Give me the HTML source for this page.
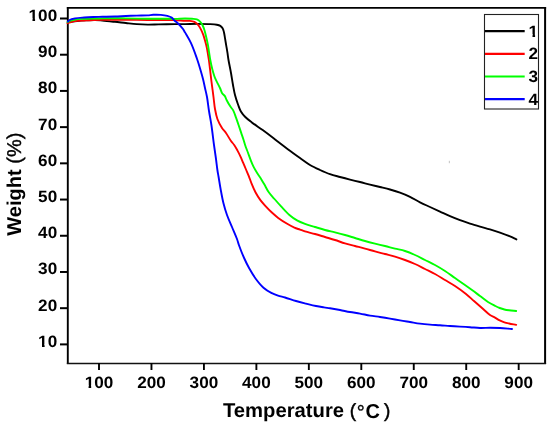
<!DOCTYPE html>
<html><head><meta charset="utf-8"><title>TGA curves</title><style>
html,body{margin:0;padding:0;background:#fff;}
body{width:550px;height:425px;overflow:hidden;}
svg{display:block;will-change:transform;}
text{font-family:"Liberation Sans",sans-serif;fill:#000;text-rendering:geometricPrecision;}
</style></head><body>
<svg width="550" height="425" viewBox="0 0 550 425">
<rect width="550" height="425" fill="#fff"/>
<defs><clipPath id="clip1"><path d="M-5,-30H20V-2.64H6.21V5H3.72V-2.64H-5Z"/></clipPath></defs>
<path d="M66.85,7.85H546.1" stroke="#000" stroke-width="1.9" fill="none"/>
<path d="M67.8,6.9V364.1" stroke="#000" stroke-width="1.9" fill="none"/>
<path d="M545.1,6.9V364.1" stroke="#000" stroke-width="2" fill="none"/>
<path d="M66.85,363.45H546.1" stroke="#111" stroke-width="1.5" fill="none"/>
<line x1="60" y1="344.39" x2="68" y2="344.39" stroke="#000" stroke-width="2"/>
<g transform="translate(38.12,346.79) scale(1.0460,1)"><g transform="translate(0.00,0)"><text x="0" y="0" font-size="16.40" font-weight="bold" clip-path="url(#clip1)">1</text></g><text x="9.12" y="0" font-size="16.40" font-weight="bold">0</text></g>
<line x1="60" y1="308.18" x2="68" y2="308.18" stroke="#000" stroke-width="2"/>
<text transform="translate(38.12,310.58) scale(1.0460,1)" text-anchor="start" font-size="16.40" font-weight="bold">20</text>
<line x1="60" y1="271.97" x2="68" y2="271.97" stroke="#000" stroke-width="2"/>
<text transform="translate(38.12,274.37) scale(1.0460,1)" text-anchor="start" font-size="16.40" font-weight="bold">30</text>
<line x1="60" y1="235.76" x2="68" y2="235.76" stroke="#000" stroke-width="2"/>
<text transform="translate(38.12,238.16) scale(1.0460,1)" text-anchor="start" font-size="16.40" font-weight="bold">40</text>
<line x1="60" y1="199.55" x2="68" y2="199.55" stroke="#000" stroke-width="2"/>
<text transform="translate(38.12,201.95) scale(1.0460,1)" text-anchor="start" font-size="16.40" font-weight="bold">50</text>
<line x1="60" y1="163.34" x2="68" y2="163.34" stroke="#000" stroke-width="2"/>
<text transform="translate(38.12,165.74) scale(1.0460,1)" text-anchor="start" font-size="16.40" font-weight="bold">60</text>
<line x1="60" y1="127.13" x2="68" y2="127.13" stroke="#000" stroke-width="2"/>
<text transform="translate(38.12,129.53) scale(1.0460,1)" text-anchor="start" font-size="16.40" font-weight="bold">70</text>
<line x1="60" y1="90.92" x2="68" y2="90.92" stroke="#000" stroke-width="2"/>
<text transform="translate(38.12,93.32) scale(1.0460,1)" text-anchor="start" font-size="16.40" font-weight="bold">80</text>
<line x1="60" y1="54.71" x2="68" y2="54.71" stroke="#000" stroke-width="2"/>
<text transform="translate(38.12,57.11) scale(1.0460,1)" text-anchor="start" font-size="16.40" font-weight="bold">90</text>
<line x1="60" y1="18.50" x2="68" y2="18.50" stroke="#000" stroke-width="2"/>
<g transform="translate(28.58,20.90) scale(1.0460,1)"><g transform="translate(0.00,0)"><text x="0" y="0" font-size="16.40" font-weight="bold" clip-path="url(#clip1)">1</text></g><text x="9.12" y="0" font-size="16.40" font-weight="bold">0</text><text x="18.24" y="0" font-size="16.40" font-weight="bold">0</text></g>
<line x1="99.00" y1="363" x2="99.00" y2="370" stroke="#000" stroke-width="1.9"/>
<g transform="translate(84.69,387.80) scale(1.0460,1)"><g transform="translate(0.00,0)"><text x="0" y="0" font-size="16.40" font-weight="bold" clip-path="url(#clip1)">1</text></g><text x="9.12" y="0" font-size="16.40" font-weight="bold">0</text><text x="18.24" y="0" font-size="16.40" font-weight="bold">0</text></g>
<line x1="151.46" y1="363" x2="151.46" y2="370" stroke="#000" stroke-width="1.9"/>
<text transform="translate(137.15,387.80) scale(1.0460,1)" text-anchor="start" font-size="16.40" font-weight="bold">200</text>
<line x1="203.92" y1="363" x2="203.92" y2="370" stroke="#000" stroke-width="1.9"/>
<text transform="translate(189.61,387.80) scale(1.0460,1)" text-anchor="start" font-size="16.40" font-weight="bold">300</text>
<line x1="256.38" y1="363" x2="256.38" y2="370" stroke="#000" stroke-width="1.9"/>
<text transform="translate(242.07,387.80) scale(1.0460,1)" text-anchor="start" font-size="16.40" font-weight="bold">400</text>
<line x1="308.84" y1="363" x2="308.84" y2="370" stroke="#000" stroke-width="1.9"/>
<text transform="translate(294.53,387.80) scale(1.0460,1)" text-anchor="start" font-size="16.40" font-weight="bold">500</text>
<line x1="361.30" y1="363" x2="361.30" y2="370" stroke="#000" stroke-width="1.9"/>
<text transform="translate(346.99,387.80) scale(1.0460,1)" text-anchor="start" font-size="16.40" font-weight="bold">600</text>
<line x1="413.76" y1="363" x2="413.76" y2="370" stroke="#000" stroke-width="1.9"/>
<text transform="translate(399.45,387.80) scale(1.0460,1)" text-anchor="start" font-size="16.40" font-weight="bold">700</text>
<line x1="466.22" y1="363" x2="466.22" y2="370" stroke="#000" stroke-width="1.9"/>
<text transform="translate(451.91,387.80) scale(1.0460,1)" text-anchor="start" font-size="16.40" font-weight="bold">800</text>
<line x1="518.68" y1="363" x2="518.68" y2="370" stroke="#000" stroke-width="1.9"/>
<text transform="translate(504.37,387.80) scale(1.0460,1)" text-anchor="start" font-size="16.40" font-weight="bold">900</text>
<g transform="translate(21.40,235.70) rotate(-90)">
<text x="0.00" y="0.00" text-anchor="start" font-size="20.00" font-weight="bold">Weight</text>
<text x="72.00" y="0.00" text-anchor="start" font-size="20.00" font-weight="normal" stroke="#000" stroke-width="0.4">(%)</text>
</g>
<text transform="translate(223.00,416.80) scale(1.0120,1)" text-anchor="start" font-size="20.00" font-weight="bold">Temperature</text>
<text x="349.70" y="416.70" text-anchor="start" font-size="19.00" font-weight="normal" stroke="#000" stroke-width="0.45">(</text>
<text x="356.65" y="419.00" text-anchor="start" font-size="20.00" font-weight="normal" stroke="#000" stroke-width="0.35">°</text>
<text x="365.60" y="418.00" text-anchor="start" font-size="20.00" font-weight="bold">C</text>
<text x="384.00" y="416.70" text-anchor="start" font-size="19.00" font-weight="normal" stroke="#000" stroke-width="0.45">)</text>
<path d="M68.00,22.40 C71.00,21.97 73.99,21.43 77.00,21.10 C79.99,20.77 83.00,20.58 86.00,20.40 C89.00,20.22 92.15,19.95 95.00,20.00 C97.59,20.05 99.81,20.35 102.40,20.60 C105.28,20.87 109.18,21.41 111.50,21.60 C112.94,21.72 113.51,21.68 115.00,21.80 C117.63,22.02 122.27,22.62 125.90,23.00 C129.53,23.38 133.16,23.83 136.80,24.10 C140.43,24.37 144.07,24.55 147.70,24.60 C151.33,24.65 154.60,24.47 158.60,24.40 C163.51,24.31 170.21,24.14 175.00,24.10 C178.74,24.07 181.53,24.13 185.00,24.10 C188.77,24.07 192.88,23.90 196.80,23.90 C200.71,23.90 204.94,23.94 208.50,24.10 C211.51,24.23 214.64,24.26 216.80,24.70 C218.24,24.99 219.31,25.28 220.30,25.90 C221.23,26.48 222.00,27.23 222.60,28.20 C223.30,29.33 223.62,30.87 224.00,32.40 C224.44,34.16 224.65,36.17 225.00,38.20 C225.38,40.45 225.80,42.93 226.20,45.30 C226.60,47.67 227.02,49.99 227.40,52.40 C227.79,54.89 228.02,57.14 228.50,60.00 C229.13,63.76 230.24,68.75 231.00,73.00 C231.73,77.08 232.30,81.19 233.00,85.00 C233.64,88.49 234.14,91.69 235.00,95.00 C235.87,98.36 237.12,102.04 238.20,105.00 C239.09,107.42 239.72,109.50 240.90,111.50 C242.08,113.50 243.59,115.26 245.30,117.00 C247.17,118.91 249.31,120.49 251.80,122.40 C254.93,124.80 259.09,127.47 262.70,130.10 C266.35,132.76 270.46,135.89 273.60,138.30 C276.03,140.16 277.75,141.57 280.00,143.30 C282.46,145.19 284.90,147.06 287.80,149.20 C291.40,151.86 296.13,155.25 300.00,158.00 C303.49,160.48 306.59,162.97 310.00,165.00 C313.26,166.94 316.64,168.46 320.00,170.00 C323.31,171.52 326.63,173.03 330.00,174.20 C333.30,175.35 336.66,176.10 340.00,177.00 C343.33,177.90 346.66,178.77 350.00,179.60 C353.33,180.43 356.67,181.17 360.00,182.00 C363.34,182.83 366.66,183.77 370.00,184.60 C373.33,185.43 376.67,186.18 380.00,187.00 C383.34,187.82 386.68,188.57 390.00,189.50 C393.35,190.44 396.70,191.40 400.00,192.60 C403.36,193.82 406.71,195.21 410.00,196.80 C413.38,198.43 416.64,200.59 420.00,202.30 C423.31,203.98 426.66,205.45 430.00,207.00 C433.33,208.55 436.67,210.07 440.00,211.60 C443.33,213.13 446.65,214.76 450.00,216.20 C453.32,217.62 456.65,218.96 460.00,220.20 C463.32,221.43 466.66,222.53 470.00,223.60 C473.32,224.66 476.66,225.63 480.00,226.60 C483.33,227.57 486.68,228.40 490.00,229.40 C493.34,230.40 496.68,231.44 500.00,232.60 C503.35,233.77 507.06,235.15 510.00,236.40 C512.39,237.41 514.27,238.40 516.40,239.40" fill="none" stroke="#000" stroke-width="1.90" stroke-linejoin="round" stroke-linecap="round"/>
<path d="M67.50,23.20 C68.33,22.93 69.01,22.68 70.00,22.40 C71.40,22.00 73.14,21.41 75.10,21.10 C77.68,20.69 81.17,20.68 84.20,20.50 C87.23,20.32 90.27,20.12 93.30,20.00 C96.33,19.88 99.12,19.84 102.40,19.80 C106.26,19.76 110.52,19.80 115.00,19.80 C120.11,19.80 125.94,19.77 131.40,19.80 C136.84,19.83 141.57,19.95 147.70,20.00 C155.63,20.06 168.14,19.85 175.00,20.10 C179.16,20.25 182.29,20.71 185.00,20.80 C186.86,20.86 188.14,20.64 189.70,20.80 C191.28,20.97 193.02,21.13 194.40,21.80 C195.74,22.45 196.86,23.52 197.90,24.70 C199.05,26.01 200.02,27.75 200.90,29.40 C201.79,31.08 202.52,32.87 203.20,34.70 C203.90,36.59 204.42,38.54 205.00,40.60 C205.63,42.83 206.30,45.25 206.80,47.60 C207.30,49.95 207.63,52.51 208.00,54.70 C208.32,56.60 208.61,58.00 208.90,60.00 C209.28,62.60 209.62,65.78 210.00,69.00 C210.44,72.71 210.94,77.29 211.40,81.00 C211.80,84.22 212.23,87.19 212.60,90.00 C212.92,92.48 213.16,94.35 213.50,97.00 C213.94,100.46 214.31,105.20 215.00,109.00 C215.64,112.50 216.23,115.82 217.40,119.00 C218.56,122.15 220.39,125.50 222.00,128.00 C223.28,129.99 224.65,131.09 226.00,133.00 C227.64,135.31 229.46,138.83 231.00,141.00 C232.14,142.60 233.18,143.51 234.20,145.00 C235.35,146.67 236.46,148.71 237.50,150.60 C238.53,152.48 239.47,154.31 240.40,156.30 C241.38,158.40 242.27,160.70 243.20,162.90 C244.13,165.10 245.07,167.30 246.00,169.50 C246.93,171.70 247.89,173.82 248.80,176.10 C249.76,178.51 250.54,181.01 251.60,183.60 C252.77,186.46 254.10,189.70 255.60,192.50 C257.04,195.19 258.64,197.73 260.40,200.10 C262.12,202.42 264.10,204.53 266.00,206.60 C267.83,208.59 269.61,210.45 271.60,212.30 C273.67,214.22 275.74,216.07 278.20,217.90 C281.00,219.98 284.68,222.29 287.60,224.00 C290.02,225.42 292.21,226.64 294.40,227.60 C296.33,228.45 298.19,228.95 300.00,229.60 C301.71,230.21 303.03,230.79 305.00,231.40 C307.75,232.25 311.68,233.07 315.00,234.00 C318.34,234.94 321.67,236.00 325.00,237.00 C328.33,238.00 331.68,238.94 335.00,240.00 C338.34,241.07 341.65,242.40 345.00,243.40 C348.32,244.39 351.67,245.13 355.00,246.00 C358.33,246.87 361.67,247.70 365.00,248.60 C368.34,249.50 371.66,250.50 375.00,251.40 C378.33,252.30 381.67,253.13 385.00,254.00 C388.33,254.87 391.68,255.61 395.00,256.60 C398.35,257.60 401.68,258.77 405.00,260.00 C408.35,261.24 411.70,262.52 415.00,264.00 C418.37,265.51 421.67,267.33 425.00,269.00 C428.33,270.67 431.70,272.19 435.00,274.00 C438.37,275.85 441.67,278.00 445.00,280.00 C448.33,282.00 451.64,283.77 455.00,286.00 C458.63,288.40 462.68,291.35 466.00,294.00 C468.94,296.34 471.33,298.67 474.00,301.00 C476.67,303.33 479.33,305.67 482.00,308.00 C484.67,310.33 487.55,313.33 490.00,315.00 C491.78,316.22 493.37,316.69 495.00,317.60 C496.60,318.49 498.10,319.61 499.70,320.40 C501.24,321.16 502.82,321.78 504.40,322.30 C505.95,322.81 507.37,323.11 509.10,323.50 C511.22,323.98 513.83,324.43 516.20,324.90" fill="none" stroke="#ff0000" stroke-width="1.90" stroke-linejoin="round" stroke-linecap="round"/>
<path d="M67.50,22.00 C68.33,21.60 69.00,21.16 70.00,20.80 C71.38,20.30 73.14,19.82 75.10,19.50 C77.68,19.07 81.16,18.97 84.20,18.80 C87.23,18.63 90.27,18.57 93.30,18.50 C96.33,18.43 99.12,18.44 102.40,18.40 C106.26,18.35 110.95,18.19 115.00,18.20 C118.76,18.20 121.64,18.33 125.90,18.40 C131.92,18.50 140.96,18.65 147.70,18.70 C153.53,18.74 159.10,18.66 164.00,18.70 C168.03,18.74 171.42,18.94 175.00,18.90 C178.41,18.86 181.96,18.50 185.00,18.50 C187.54,18.50 189.89,18.62 192.00,18.80 C193.75,18.95 195.38,18.86 196.80,19.40 C198.13,19.90 199.33,20.81 200.30,21.80 C201.26,22.78 201.94,24.01 202.60,25.30 C203.33,26.72 203.85,28.26 204.40,30.00 C205.06,32.08 205.62,34.56 206.20,37.00 C206.83,39.64 207.50,42.63 208.00,45.30 C208.46,47.75 208.72,49.99 209.10,52.40 C209.49,54.89 209.89,57.73 210.30,60.00 C210.63,61.84 210.89,63.17 211.30,65.00 C211.81,67.25 212.52,70.18 213.20,72.50 C213.80,74.54 214.33,76.34 215.10,78.20 C215.89,80.10 217.02,82.01 217.90,83.80 C218.71,85.43 219.50,86.92 220.20,88.50 C220.89,90.05 221.25,91.89 222.10,93.20 C222.86,94.37 224.15,94.99 224.90,96.10 C225.67,97.24 225.87,98.55 226.60,100.00 C227.58,101.94 229.18,104.73 230.40,106.60 C231.36,108.07 232.35,108.85 233.20,110.40 C234.31,112.42 235.21,115.47 236.10,117.90 C236.93,120.16 237.60,122.16 238.40,124.50 C239.30,127.13 240.30,130.22 241.20,132.90 C242.03,135.37 242.91,137.83 243.60,140.00 C244.18,141.81 244.49,143.18 245.10,145.00 C245.86,147.26 246.97,149.99 247.90,152.50 C248.84,155.02 249.73,157.68 250.70,160.10 C251.60,162.36 252.43,164.46 253.50,166.60 C254.61,168.82 256.00,171.10 257.30,173.20 C258.53,175.19 259.90,176.99 261.10,178.90 C262.27,180.76 263.23,182.47 264.40,184.50 C265.77,186.88 267.11,189.87 268.80,192.30 C270.48,194.70 272.52,196.72 274.50,199.00 C276.61,201.42 278.75,203.86 281.10,206.40 C283.68,209.18 286.58,212.57 289.40,215.00 C291.89,217.14 294.35,218.90 297.00,220.40 C299.56,221.85 302.15,222.84 305.00,223.90 C308.12,225.06 311.66,225.98 315.00,227.00 C318.33,228.02 321.65,229.10 325.00,230.00 C328.32,230.90 331.67,231.57 335.00,232.40 C338.34,233.23 341.68,234.07 345.00,235.00 C348.34,235.94 351.67,237.00 355.00,238.00 C358.33,239.00 361.66,240.06 365.00,241.00 C368.32,241.93 371.66,242.77 375.00,243.60 C378.33,244.43 381.67,245.17 385.00,246.00 C388.34,246.83 391.66,247.77 395.00,248.60 C398.33,249.43 401.70,249.95 405.00,251.00 C408.37,252.07 411.70,253.52 415.00,255.00 C418.37,256.51 421.67,258.33 425.00,260.00 C428.33,261.67 431.70,263.19 435.00,265.00 C438.37,266.85 441.70,268.86 445.00,271.00 C448.37,273.19 451.67,275.67 455.00,278.00 C458.33,280.33 461.97,282.86 465.00,285.00 C467.55,286.80 469.60,288.24 472.00,290.00 C474.59,291.89 477.33,294.00 480.00,296.00 C482.67,298.00 485.36,300.31 488.00,302.00 C490.36,303.51 492.88,304.73 495.00,305.80 C496.71,306.66 498.11,307.38 499.70,308.00 C501.25,308.61 502.82,309.12 504.40,309.50 C505.95,309.88 507.37,310.07 509.10,310.30 C511.22,310.58 513.83,310.77 516.20,311.00" fill="none" stroke="#00ff00" stroke-width="1.90" stroke-linejoin="round" stroke-linecap="round"/>
<path d="M68.00,21.50 C68.53,21.00 68.84,20.44 69.60,20.00 C70.83,19.30 73.02,18.80 75.10,18.40 C77.73,17.89 81.16,17.73 84.20,17.50 C87.23,17.27 90.27,17.12 93.30,17.00 C96.33,16.88 99.12,16.88 102.40,16.80 C106.26,16.71 110.95,16.64 115.00,16.50 C118.77,16.37 122.27,16.15 125.90,16.00 C129.53,15.85 133.17,15.70 136.80,15.60 C140.43,15.50 144.69,15.59 147.70,15.40 C149.85,15.26 151.22,14.89 153.20,14.80 C155.53,14.69 158.37,14.70 160.80,14.90 C163.06,15.09 165.37,15.38 167.30,15.90 C168.94,16.34 170.49,16.78 171.70,17.60 C172.81,18.35 173.47,19.66 174.40,20.50 C175.24,21.27 176.00,21.59 177.00,22.50 C178.64,24.00 181.60,27.11 183.00,29.00 C183.93,30.26 184.17,30.95 185.00,32.40 C186.46,34.93 189.06,39.00 190.90,42.90 C193.04,47.45 195.35,54.10 196.80,58.20 C197.76,60.90 198.18,62.32 199.00,65.00 C200.16,68.82 201.94,74.83 203.00,79.00 C203.84,82.32 204.33,85.00 205.00,88.00 C205.67,91.00 206.39,93.66 207.00,97.00 C207.75,101.14 208.27,106.34 209.00,111.00 C209.73,115.67 210.63,119.91 211.40,125.00 C212.31,131.07 213.17,138.93 214.00,145.00 C214.69,150.08 215.41,154.61 216.00,159.00 C216.52,162.89 216.91,166.75 217.40,170.00 C217.79,172.60 218.15,174.35 218.60,177.00 C219.19,180.46 219.84,184.85 220.60,189.00 C221.42,193.49 222.29,198.54 223.40,203.00 C224.44,207.18 225.58,211.04 227.00,215.00 C228.44,219.04 230.33,223.00 232.00,227.00 C233.67,231.00 235.78,235.66 237.00,239.00 C237.85,241.32 238.05,242.64 238.90,245.00 C240.16,248.53 242.29,253.95 244.10,258.00 C245.74,261.67 247.30,264.90 249.20,268.30 C251.16,271.81 253.30,275.45 255.70,278.70 C258.07,281.91 260.72,285.25 263.50,287.70 C265.96,289.87 268.73,291.54 271.30,292.90 C273.56,294.09 275.72,294.83 278.00,295.60 C280.29,296.37 282.41,296.74 285.00,297.50 C288.26,298.46 292.41,299.96 296.00,301.00 C299.40,301.98 302.66,302.77 306.00,303.60 C309.33,304.43 312.84,305.35 316.00,306.00 C318.81,306.58 321.52,307.00 324.00,307.40 C326.14,307.75 327.75,307.94 330.00,308.30 C332.91,308.77 336.67,309.38 340.00,310.00 C343.34,310.62 346.66,311.40 350.00,312.00 C353.33,312.60 356.67,313.00 360.00,313.60 C363.34,314.20 366.66,315.03 370.00,315.60 C373.33,316.16 376.67,316.50 380.00,317.00 C383.34,317.50 386.67,318.03 390.00,318.60 C393.34,319.17 396.66,319.83 400.00,320.40 C403.33,320.97 406.67,321.47 410.00,322.00 C413.33,322.53 416.66,323.17 420.00,323.60 C423.33,324.03 426.66,324.33 430.00,324.60 C433.33,324.87 436.67,324.97 440.00,325.20 C443.33,325.43 446.67,325.77 450.00,326.00 C453.33,326.23 456.67,326.40 460.00,326.60 C463.33,326.80 466.67,326.97 470.00,327.20 C473.33,327.43 476.66,327.90 480.00,328.00 C483.33,328.10 486.67,327.80 490.00,327.80 C493.33,327.80 496.52,327.82 500.00,328.00 C503.82,328.20 508.00,328.67 512.00,329.00" fill="none" stroke="#0000ff" stroke-width="1.90" stroke-linejoin="round" stroke-linecap="round"/>
<rect x="448.8" y="160.8" width="1.2" height="2.4" fill="#ccc"/>
<rect x="484.5" y="14.5" width="54" height="94.5" fill="#fff" stroke="#222" stroke-width="1.1"/>
<line x1="485" y1="31.20" x2="524.7" y2="31.20" stroke="#000" stroke-width="2.2"/>
<g transform="translate(528.60,36.60) scale(1.0460,1)"><g transform="translate(0.00,0)"><text x="0" y="0" font-size="16.40" font-weight="bold" clip-path="url(#clip1)">1</text></g></g>
<line x1="485" y1="53.85" x2="524.7" y2="53.85" stroke="#ff0000" stroke-width="2.2"/>
<text transform="translate(528.60,59.25) scale(1.0460,1)" text-anchor="start" font-size="16.40" font-weight="bold">2</text>
<line x1="485" y1="76.50" x2="524.7" y2="76.50" stroke="#00ff00" stroke-width="2.2"/>
<text transform="translate(528.60,81.90) scale(1.0460,1)" text-anchor="start" font-size="16.40" font-weight="bold">3</text>
<line x1="485" y1="99.15" x2="524.7" y2="99.15" stroke="#0000ff" stroke-width="2.2"/>
<text transform="translate(528.60,104.55) scale(1.0460,1)" text-anchor="start" font-size="16.40" font-weight="bold">4</text>
</svg>
</body></html>
